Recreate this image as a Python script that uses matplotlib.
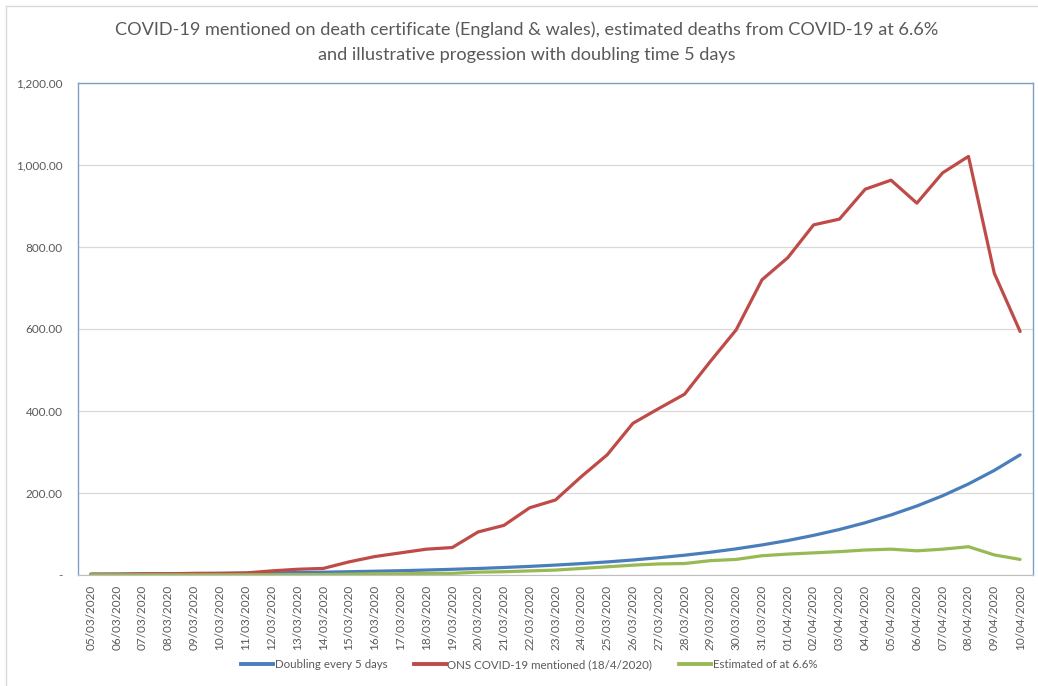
import matplotlib.pyplot as plt
from matplotlib.lines import Line2D

# dates on the x axis (05/03/2020 - 10/04/2020)
dates = ['05/03/2020', '06/03/2020', '07/03/2020', '08/03/2020', '09/03/2020', '10/03/2020',
         '11/03/2020', '12/03/2020', '13/03/2020', '14/03/2020', '15/03/2020', '16/03/2020',
         '17/03/2020', '18/03/2020', '19/03/2020', '20/03/2020', '21/03/2020', '22/03/2020',
         '23/03/2020', '24/03/2020', '25/03/2020', '26/03/2020', '27/03/2020', '28/03/2020',
         '29/03/2020', '30/03/2020', '31/03/2020', '01/04/2020', '02/04/2020', '03/04/2020',
         '04/04/2020', '05/04/2020', '06/04/2020', '07/04/2020', '08/04/2020', '09/04/2020',
         '10/04/2020']

# illustrative progression, doubling every 5 days
doubling = [2.0, 2.3, 2.6, 3.0, 3.5, 4.0, 4.6, 5.2, 6.0, 6.9, 8.0, 9.2, 10.5, 12.1, 13.9,
            15.9, 18.3, 21.0, 24.2, 27.8, 31.9, 36.6, 42.1, 48.3, 55.5, 63.8, 73.3, 84.1,
            96.7, 111.0, 127.5, 146.5, 168.3, 193.3, 222.1, 255.1, 293.0]

# ONS COVID-19 mentioned on death certificate (18/4/2020)
ons = [2, 2, 3, 3, 4, 4, 5, 10, 14, 16, 32, 45, 54, 63, 67, 105, 121, 164, 183, 240,
       293, 370, 406, 441, 521, 598, 720, 774, 854, 868, 941, 963, 907, 981, 1021, 736, 594]

# estimated deaths from COVID-19 at 6.6%
estimated = [0.5, 0.5, 0.5, 0.5, 0.5, 0.5, 0.6, 0.8, 1, 1, 2, 3, 3, 4, 4, 7, 8, 10, 12, 16,
             20, 24, 27, 28, 35, 38, 47, 51, 54, 57, 61, 63, 59, 63, 69, 49, 38]

series_names = ['Doubling every 5 days', 'ONS COVID-19 mentioned (18/4/2020)', 'Estimated of at 6.6%']
colors = ['#4A7EBB', '#BE4B48', '#98B954']
yticks = [0, 200, 400, 600, 800, 1000, 1200]

plt.rcParams['font.family'] = ['Lato', 'DejaVu Sans']
text_color = '#595959'

fig = plt.figure(figsize=(10.38, 6.86), dpi=100)
ax = fig.add_axes([78 / 1038, 1 - 575 / 686, (1033 - 78) / 1038, (575 - 83) / 686])

x = range(len(dates))
for values, color in zip([doubling, ons, estimated], colors):
    ax.plot(x, values, color=color, linewidth=2.3, solid_capstyle='round', solid_joinstyle='round')

ax.set_xlim(-0.5, len(dates) - 0.5)
ax.set_ylim(0, 1200)
ax.set_yticks(yticks)
ax.set_yticklabels(['-' if v == 0 else f'{v:,.2f}' for v in yticks])
ax.set_xticks(list(x))
ax.set_xticklabels(dates, rotation=90)
ax.tick_params(axis='both', length=0, colors=text_color, labelsize=8.5)
ax.tick_params(axis='y', pad=11)
ax.tick_params(axis='x', pad=7)
ax.grid(axis='y', color='#D9D9D9', linewidth=0.9)
ax.set_axisbelow(True)
for side in ['left', 'right', 'top']:
    ax.spines[side].set_color('#7F9FC2')
    ax.spines[side].set_linewidth(1.0)
ax.spines['bottom'].set_color('#BFBFBF')

# title
fig.text(0.5075, 1 - 30 / 686,
         'COVID-19 mentioned on death certificate (England & wales), estimated deaths from COVID-19 at 6.6%',
         ha='center', va='center', fontsize=13.1, color=text_color)
fig.text(0.5075, 1 - 55 / 686, 'and illustrative progession with doubling time 5 days',
         ha='center', va='center', fontsize=13.1, color=text_color)

# legend
handles = [Line2D([0], [0], color=c, linewidth=2.8) for c in colors]
fig.legend(handles, series_names, loc='center', bbox_to_anchor=(529 / 1038, 1 - 665 / 686), ncol=3,
           frameon=False, fontsize=8.3, labelcolor=text_color, handlelength=2.8,
           handletextpad=0.12, columnspacing=2.3)

# outer chart frame
fig.add_artist(Line2D([6 / 1038, 6 / 1038], [0, 1 - 6 / 686], color='#D9D9D9', linewidth=1))
fig.add_artist(Line2D([6 / 1038, 1], [1 - 6 / 686, 1 - 6 / 686], color='#D9D9D9', linewidth=1))

fig.savefig('out.png', dpi=100)
